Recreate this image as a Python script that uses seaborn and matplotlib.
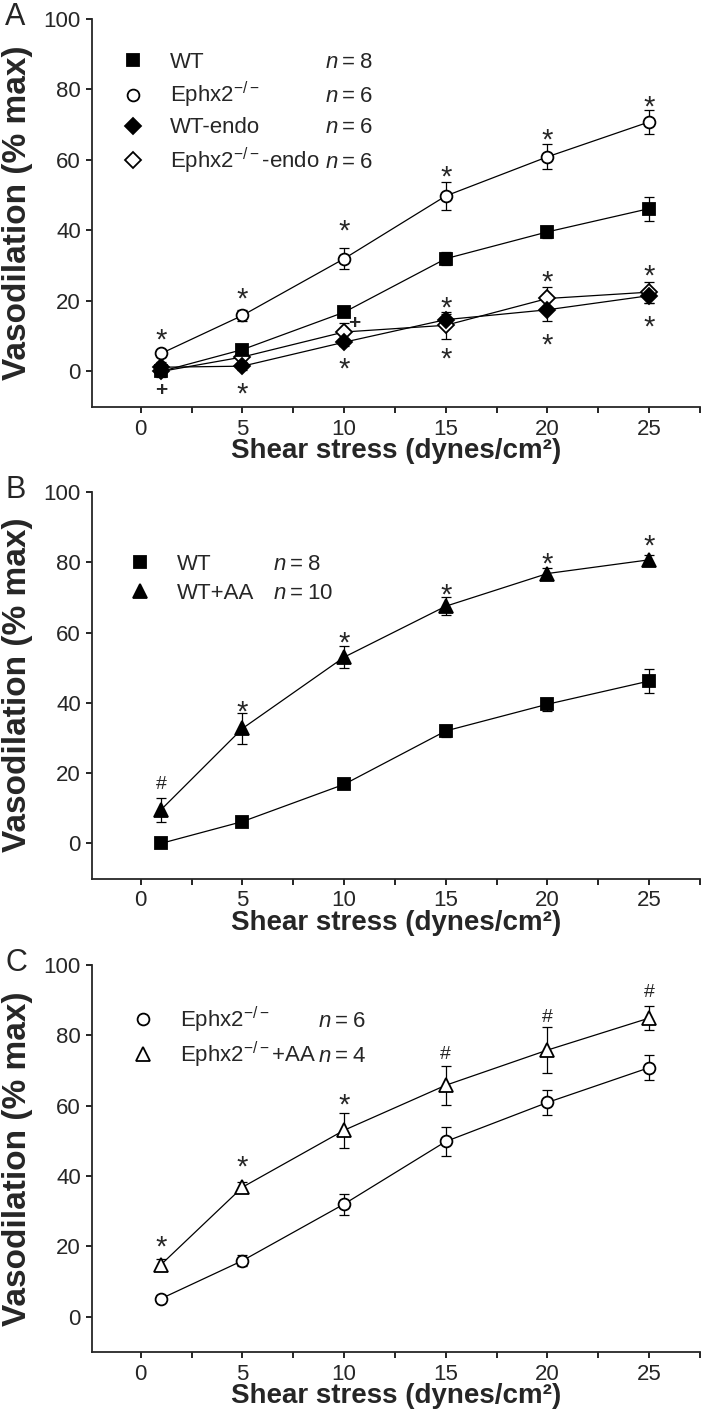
import numpy as np
import pandas as pd
import matplotlib
matplotlib.use("Agg")
import matplotlib.pyplot as plt
import matplotlib.transforms as mtransforms
from matplotlib.lines import Line2D
import seaborn as sns

# ---------------- data ----------------
shear = [1, 5, 10, 15, 20, 25]

wt_mean = [0.0, 6.2, 16.8, 32.0, 39.6, 46.2]
wt_sem = [0.8, 1.0, 1.0, 1.8, 1.8, 3.4]
ko_mean = [5.1, 15.9, 32.0, 49.8, 60.9, 70.8]
ko_sem = [1.0, 1.5, 3.0, 4.0, 3.5, 3.5]
wt_endo_mean = [1.2, 1.5, 8.3, 14.7, 17.5, 21.5]
wt_endo_sem = [1.5, 1.0, 1.0, 1.5, 3.2, 2.0]
ko_endo_mean = [0.0, 4.1, 11.2, 13.1, 20.7, 22.5]
ko_endo_sem = [1.5, 1.5, 2.5, 3.8, 3.3, 3.0]
wt_aa_mean = [9.6, 32.7, 53.0, 67.5, 76.8, 80.7]
wt_aa_sem = [3.4, 4.4, 3.2, 2.5, 1.5, 1.5]
ko_aa_mean = [14.8, 36.8, 53.0, 65.8, 75.8, 84.9]
ko_aa_sem = [1.5, 1.5, 5.0, 5.5, 6.5, 3.5]

labels_a = ["WT", "Ephx2$^{-/-}$", "WT-endo", "Ephx2$^{-/-}$-endo"]
n_a = [8, 6, 6, 6]
labels_b = ["WT", "WT+AA"]
n_b = [8, 10]
labels_c = ["Ephx2$^{-/-}$", "Ephx2$^{-/-}$+AA"]
n_c = [6, 4]

ann_a_x = [1, 1, 5, 5, 10, 10, 10.5, 15, 15, 15, 20, 20, 20, 25, 25, 25]
ann_a_y = [11.2, -4.9, 23.0, -4.0, 42.3, 3.1, 14.0, 57.6, 20.2, 6.0, 68.0, 27.8, 9.9, 77.5, 29.5, 15.0]
ann_a_s = ["*", "+", "*", "*", "*", "*", "+", "*", "*", "*", "*", "*", "*", "*", "*", "*"]

ann_b_x = [1, 5, 10, 15, 20, 25]
ann_b_y = [17.4, 39.7, 59.3, 73.1, 81.9, 87.0]
ann_b_s = ["#", "*", "*", "*", "*", "*"]

ann_c_x = [1, 5, 10, 15, 20, 25]
ann_c_y = [22.1, 44.8, 62.5, 75.3, 85.7, 92.8]
ann_c_s = ["*", "*", "*", "#", "#", "#"]

xticks = [0, 5, 10, 15, 20, 25]
yticks = [0, 20, 40, 60, 80, 100]
xlabel = "Shear stress (dynes/cm\u00b2)"
ylabel = "Vasodilation (% max)"

# ---------------- style ----------------
sns.set_style("ticks")
plt.rcParams.update({
    "font.family": ["Liberation Sans", "DejaVu Sans"],
    "mathtext.fontset": "custom",
    "mathtext.rm": "Liberation Sans",
    "mathtext.it": "Liberation Sans:italic",
    "mathtext.bf": "Liberation Sans:bold",
    "axes.linewidth": 1.3,
})

STY = {
    "wt": dict(marker="s", ms=8.5, face="black"),
    "ko": dict(marker="o", ms=8.5, face="white"),
    "wt_endo": dict(marker="D", ms=8.5, face="black"),
    "ko_endo": dict(marker="D", ms=8.5, face="white"),
    "wt_aa": dict(marker="^", ms=10.5, face="black"),
    "ko_aa": dict(marker="^", ms=10.5, face="white"),
}
SYM_SIZE = {"*": 21, "+": 15, "#": 14}
SYM_OFF = {"*": 0.575, "+": 0.34, "#": 0.36}
SYM_W = {"*": "normal", "+": "bold", "#": "normal"}

fig = plt.figure(figsize=(7.03, 14.24), dpi=100)
L, W = 92 / 703, 608 / 703
ax_a = fig.add_axes([L, 1 - 406.7 / 1424, W, 387.7 / 1424])
ax_b = fig.add_axes([L, 1 - 878.5 / 1424, W, 386.5 / 1424])
ax_c = fig.add_axes([L, 1 - 1351.7 / 1424, W, 386.7 / 1424])


def draw_series(ax, mean, sem, key):
    st = STY[key]
    df = pd.DataFrame({"x": shear, "y": mean})
    ax.errorbar(shear, mean, yerr=sem, fmt="none", ecolor="black",
                elinewidth=0.9, capsize=3.3, capthick=0.9, zorder=2)
    sns.lineplot(data=df, x="x", y="y", ax=ax, color="black", lw=0.9,
                 marker=st["marker"], markersize=st["ms"],
                 markerfacecolor=st["face"], markeredgecolor="black",
                 markeredgewidth=1.3, zorder=3, legend=False)


def annotate(ax, xs, ys, syms):
    for x, y, s in zip(xs, ys, syms):
        fs = SYM_SIZE[s]
        ax.annotate(s, (x, y), xytext=(0, -SYM_OFF[s] * fs),
                    textcoords="offset points", ha="center", va="baseline",
                    fontsize=fs, fontweight=SYM_W[s], zorder=4)


def style_axes(ax, letter):
    ax.set_xlim(-2.4, 27.5)
    ax.set_ylim(-10, 100)
    ax.set_xticks(xticks)
    ax.set_xticks(np.arange(2.5, 28, 5), minor=True)
    ax.set_yticks(yticks)
    ax.tick_params(which="both", direction="out", length=4, width=1.2,
                   labelsize=16, color="black")
    ax.tick_params(axis="x", pad=4.5)
    ax.tick_params(axis="y", pad=4)
    sns.despine(ax=ax)
    ax.set_xlabel(xlabel, fontsize=20, fontweight="bold")
    ax.xaxis.set_label_coords(0.5, -0.115)
    ax.xaxis.label.set_va("center")
    ax.set_ylabel(ylabel, fontsize=24, fontweight="bold")
    ax.yaxis.set_label_coords(-0.122, 0.5)
    ax.yaxis.label.set_va("center")
    ax.text(-0.143, 1.005, letter, transform=ax.transAxes, fontsize=22,
            ha="left", va="center")


def add_legend(ax, labels, keys, ns, anchor, nx, spacing):
    handles = []
    for k in keys:
        st = STY[k]
        handles.append(Line2D([], [], ls="none", marker=st["marker"],
                              markersize=st["ms"], markerfacecolor=st["face"],
                              markeredgecolor="black", markeredgewidth=1.3))
    leg = ax.legend(handles, labels, loc="upper left", bbox_to_anchor=anchor,
                    frameon=False, fontsize=16, handlelength=1.0,
                    handletextpad=1.15, borderpad=0, borderaxespad=0,
                    labelspacing=spacing)
    return leg, ns, nx


# Panel A
draw_series(ax_a, ko_endo_mean, ko_endo_sem, "ko_endo")
draw_series(ax_a, wt_endo_mean, wt_endo_sem, "wt_endo")
draw_series(ax_a, wt_mean, wt_sem, "wt")
draw_series(ax_a, ko_mean, ko_sem, "ko")
annotate(ax_a, ann_a_x, ann_a_y, ann_a_s)
style_axes(ax_a, "A")
legs = [add_legend(ax_a, labels_a, ["wt", "ko", "wt_endo", "ko_endo"], n_a,
                   (0.049, 0.915), 0.383, 0.32)]

# Panel B
draw_series(ax_b, wt_mean, wt_sem, "wt")
draw_series(ax_b, wt_aa_mean, wt_aa_sem, "wt_aa")
annotate(ax_b, ann_b_x, ann_b_y, ann_b_s)
style_axes(ax_b, "B")
legs.append(add_legend(ax_b, labels_b, ["wt", "wt_aa"], n_b, (0.061, 0.840), 0.298, 0.35))

# Panel C
draw_series(ax_c, ko_mean, ko_sem, "ko")
draw_series(ax_c, ko_aa_mean, ko_aa_sem, "ko_aa")
annotate(ax_c, ann_c_x, ann_c_y, ann_c_s)
style_axes(ax_c, "C")
legs.append(add_legend(ax_c, labels_c, ["ko", "ko_aa"], n_c, (0.066, 0.897), 0.372, 0.2))

# n = ... column aligned to legend rows
fig.canvas.draw()
for (leg, ns, nx), ax in zip(legs, [ax_a, ax_b, ax_c]):
    tr = mtransforms.blended_transform_factory(ax.transAxes, mtransforms.IdentityTransform())
    for t, n in zip(leg.get_texts(), ns):
        _, yb = t.get_transform().transform(t.get_position())
        ax.text(nx, yb, "$n$\u2009=\u2009%d" % n, transform=tr, fontsize=16,
                ha="left", va="baseline")

fig.savefig("out.png", dpi=100)
